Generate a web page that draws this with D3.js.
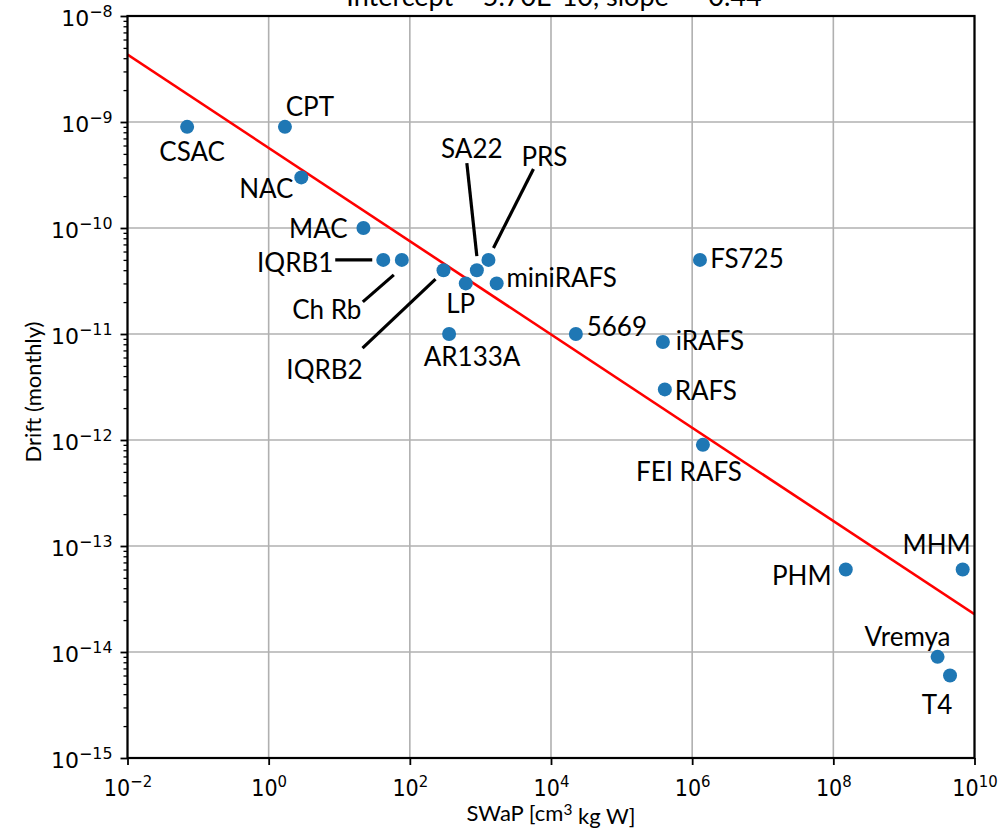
<!DOCTYPE html>
<html><head><meta charset="utf-8">
<script src="https://cdn.jsdelivr.net/npm/d3@7"></script>
<style>
html,body{margin:0;padding:0;background:#fff;}
svg{display:block;}
</style></head>
<body>
<svg id="chart" width="999" height="831"></svg>
<script>
// ---- data ----
const names  = ["CSAC","CPT","NAC","MAC","IQRB1","Ch Rb","IQRB2","LP","SA22","PRS","miniRAFS","AR133A","5669","iRAFS","RAFS","FS725","FEI RAFS","PHM","MHM","Vremya","T4"];
const swap   = [0.07, 1.7, 2.9, 22, 42, 77, 300, 620, 890, 1300, 1700, 360, 22500, 385000, 410000, 1.29e6, 1.42e6, 1.5e8, 6.8e9, 3.0e9, 4.5e9];
const drift  = [9e-10, 9e-10, 3e-10, 1e-10, 5e-11, 5e-11, 4e-11, 3e-11, 4e-11, 5e-11, 3e-11, 1e-11, 1e-11, 8.4e-12, 3e-12, 5e-11, 9e-13, 6e-14, 6e-14, 9e-15, 6e-15];
const fitIntercept = 5.70e-10;
const fitSlope = -0.44;
const xTickExps = [-2, 0, 2, 4, 6, 8, 10];
const yTickExps = [-15, -14, -13, -12, -11, -10, -9, -8];
const titleText = "Intercept = 5.70E-10, slope = -0.44";

// ---- layout (pixel offsets for labels / leader lines) ----
const labelOffset = {
  "CSAC":[5,24],"CPT":[25,-21],"NAC":[-35,11],"MAC":[-45,0],"IQRB1":[-88,2],
  "Ch Rb":[-75,49],"IQRB2":[-119,99],"LP":[-5,20],"SA22":[-5,-122],"PRS":[56,-104],
  "miniRAFS":[65,-6],"AR133A":[23,22],"5669":[41,-8],"iRAFS":[47,-2],"RAFS":[41,1],
  "FS725":[47,-2],"FEI RAFS":[-14,26],"PHM":[-44,5],"MHM":[-26,-26],"Vremya":[-30,-21],"T4":[-13,28]
};
const leaders = {
  "IQRB1":[-48,0,-11,0],
  "Ch Rb":[-39,42,-8,15],
  "IQRB2":[-81,78,-8,9],
  "SA22":[-10,-107,0,-14],
  "PRS":[45,-91,5,-12]
};

const svg = d3.select("#chart");
const L = 127.5, R = 974.5, T = 16, B = 758;
const x = d3.scaleLog().domain([1e-2, 1e10]).range([L, R]);
const y = d3.scaleLog().domain([1e-15, 1e-8]).range([B, T]);

// grid
const g = svg.append("g");
g.selectAll("line.gx").data(xTickExps).join("line")
  .attr("x1", d => x(Math.pow(10, d))).attr("x2", d => x(Math.pow(10, d)))
  .attr("y1", T).attr("y2", B).attr("stroke", "#b0b0b0").attr("stroke-width", 1.6);
g.selectAll("line.gy").data(yTickExps).join("line")
  .attr("y1", d => y(Math.pow(10, d))).attr("y2", d => y(Math.pow(10, d)))
  .attr("x1", L).attr("x2", R).attr("stroke", "#b0b0b0").attr("stroke-width", 1.6);

// fit line
svg.append("clipPath").attr("id", "clip").append("rect")
  .attr("x", L).attr("y", T).attr("width", R - L).attr("height", B - T);
const fitX = [1e-2, 1e10];
svg.append("line")
  .attr("clip-path", "url(#clip)")
  .attr("x1", x(fitX[0])).attr("y1", y(fitIntercept * Math.pow(fitX[0], fitSlope)))
  .attr("x2", x(fitX[1])).attr("y2", y(fitIntercept * Math.pow(fitX[1], fitSlope)))
  .attr("stroke", "red").attr("stroke-width", 2.6);

// points
const pts = names.map((n, i) => ({name: n, sx: swap[i], dy: drift[i]}));
svg.selectAll("circle.pt").data(pts).join("circle")
  .attr("cx", d => x(d.sx)).attr("cy", d => y(d.dy)).attr("r", 7)
  .attr("fill", "#1f77b4");

// leader lines
svg.selectAll("line.lead").data(pts.filter(d => leaders[d.name])).join("line")
  .attr("x1", d => x(d.sx) + leaders[d.name][0]).attr("y1", d => y(d.dy) + leaders[d.name][1])
  .attr("x2", d => x(d.sx) + leaders[d.name][2]).attr("y2", d => y(d.dy) + leaders[d.name][3])
  .attr("stroke", "#000").attr("stroke-width", 3.2);

// labels
svg.selectAll("text.lab").data(pts).join("text")
  .attr("x", d => x(d.sx) + labelOffset[d.name][0])
  .attr("y", d => y(d.dy) + labelOffset[d.name][1])
  .attr("text-anchor", "middle").attr("dominant-baseline", "central")
  .attr("font-family", "Lato, 'Open Sans', sans-serif").attr("font-size", 26)
  .attr("fill", "#000").text(d => d.name);

// frame
svg.append("rect").attr("x", L).attr("y", T).attr("width", R - L).attr("height", B - T)
  .attr("fill", "none").attr("stroke", "#000").attr("stroke-width", 2.2);

function supLabel(sel, e) {
  sel.text("");
  sel.append("tspan").text("10");
  sel.append("tspan").attr("dy", "-0.55em").attr("font-size", "0.72em")
    .text(e < 0 ? "\u2212" + Math.abs(e) : String(e));
}

// x axis
const xAxis = d3.axisBottom(x).tickValues(xTickExps.map(e => Math.pow(10, e))).tickSize(7).tickFormat("");
const xg = svg.append("g").attr("transform", `translate(0,${B})`).call(xAxis);
xg.select(".domain").remove();
xg.selectAll(".tick line").attr("stroke", "#000").attr("stroke-width", 1.8);
xg.selectAll(".tick").each(function(d) {
  const t = d3.select(this).append("text").attr("y", 38).attr("text-anchor", "middle")
    .attr("font-family", "'DejaVu Sans Condensed', 'DejaVu Sans', sans-serif").attr("font-size", 23).attr("fill", "#000");
  supLabel(t, Math.round(Math.log10(d)));
});

// y axis major
const yAxis = d3.axisLeft(y).tickValues(yTickExps.map(e => Math.pow(10, e))).tickSize(7).tickFormat("");
const yg = svg.append("g").attr("transform", `translate(${L},0)`).call(yAxis);
yg.select(".domain").remove();
yg.selectAll(".tick line").attr("stroke", "#000").attr("stroke-width", 1.8);
yg.selectAll(".tick").each(function(d) {
  const t = d3.select(this).append("text").attr("x", -15).attr("y", 9).attr("text-anchor", "end")
    .attr("font-family", "'DejaVu Sans', sans-serif").attr("font-size", 22).attr("fill", "#000");
  supLabel(t, Math.round(Math.log10(d)));
});
// y minor ticks
const minors = [];
yTickExps.slice(0, -1).forEach(e => { for (let k = 2; k <= 9; k++) minors.push(k * Math.pow(10, e)); });
const ym = svg.append("g").attr("transform", `translate(${L},0)`)
  .call(d3.axisLeft(y).tickValues(minors).tickSize(4).tickFormat(""));
ym.select(".domain").remove();
ym.selectAll(".tick line").attr("stroke", "#000").attr("stroke-width", 1.3);

// axis titles
svg.append("text").attr("x", (L + R) / 2).attr("y", 821).attr("text-anchor", "middle")
  .attr("font-family", "Lato, sans-serif").attr("font-size", 22).attr("fill", "#000")
  .call(t => {
    t.append("tspan").text("SWaP [cm");
    t.append("tspan").attr("dy", "-0.4em").attr("font-size", "0.7em").text("3");
    t.append("tspan").attr("dy", "0.4em").text(" kg W]");
  });
svg.append("text").attr("transform", `translate(41,${(T + B) / 2 + 5}) rotate(-90)`)
  .attr("text-anchor", "middle").attr("font-family", "Lato, sans-serif").attr("font-size", 22)
  .attr("fill", "#000").text("Drift (monthly)");

// title (partly cut off at top, as in the reference)
svg.append("text").attr("x", 554).attr("y", 6).attr("text-anchor", "middle")
  .attr("font-family", "Lato, sans-serif").attr("font-size", 27).attr("fill", "#000")
  .text(titleText);
</script>
</body></html>
